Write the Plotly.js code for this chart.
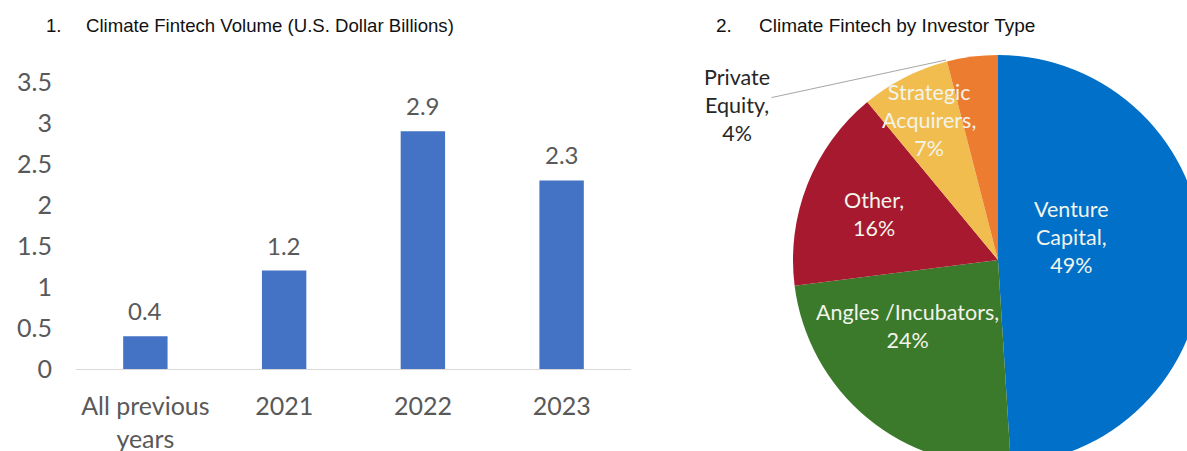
<!DOCTYPE html>
<html>
<head>
<meta charset="utf-8">
<script src="https://cdn.plot.ly/plotly-3.0.1.min.js"></script>
<style>
html,body{margin:0;padding:0;overflow:hidden;background:#fff;width:1187px;height:451px;}
#chart{position:absolute;left:0;top:0;width:1210px;height:470px;}
</style>
</head>
<body>
<div id="chart"></div>
<script>
// ---- Data ----
const barCategories = ['All previous<br>years', '2021', '2022', '2023'];
const barValues = [0.4, 1.2, 2.9, 2.3];
const yTickVals = [0, 0.5, 1, 1.5, 2, 2.5, 3, 3.5];
const yTickText = ['0', '0.5', '1', '1.5', '2', '2.5', '3', '3.5'];

const pieLabels = ['Venture Capital', 'Angles /Incubators', 'Other', 'Strategic Acquirers', 'Private Equity'];
const pieLabelText = ['Venture<br>Capital,', 'Angles /Incubators,', 'Other,', 'Strategic<br>Acquirers,', 'Private<br>Equity,'];
const pieShares = [49, 24, 16, 7, 4];
const pieColors = ['#0070C9', '#3B7A2A', '#A6192E', '#F2BD4F', '#EC7C30'];

const title1Num = '1.';
const title1 = 'Climate Fintech Volume (U.S. Dollar Billions)';
const title2Num = '2.';
const title2 = 'Climate Fintech by Investor Type';

// ---- Layout helpers ----
const W = 1210, H = 470;
const px = x => x / W;
const py = y => 1 - y / H;

const calibri = 'Lato, "Open Sans", sans-serif';
const arial = '"Liberation Sans", Arial, sans-serif';
const gray = '#595959';

const barX = barCategories.map((c, i) => i);

const barTrace = {
  type: 'bar',
  x: barX,
  y: barValues,
  marker: {color: '#4472C4'},
  xaxis: 'x', yaxis: 'y',
  hoverinfo: 'none'
};

const pieTrace = {
  type: 'pie',
  labels: pieLabels,
  values: pieShares,
  textinfo: 'none',
  marker: {colors: pieColors, line: {width: 0}},
  sort: false,
  direction: 'clockwise',
  rotation: 0,
  showlegend: false,
  hoverinfo: 'none',
  domain: {x: [px(793), px(1203)], y: [py(465), py(55)]}
};

const annotations = [];
// bar value labels
barX.forEach((x, i) => {
  annotations.push({
    x: x, y: barValues[i], xref: 'x', yref: 'y',
    text: String(barValues[i]), showarrow: false,
    yanchor: 'bottom', yshift: 9,
    font: {family: calibri, size: 24, color: gray}
  });
});
// titles
[[44, title1Num, 18.6], [84, title1, 18.6], [714, title2Num, 19], [757, title2, 19]].forEach(([x, t, s]) => {
  annotations.push({xref: 'paper', yref: 'paper', x: px(x), y: py(25), xanchor: 'left', yanchor: 'middle',
    text: t, showarrow: false, font: {family: arial, size: s, color: '#111'}});
});
// pie labels (inside)
const pieLabelPos = [[1071, 237], [907, 326], [874, 214], [929, 120]];
const lightText = '#F2F4EC';
pieLabelPos.forEach(([x, y], i) => {
  annotations.push({xref: 'paper', yref: 'paper', x: px(x), y: py(y), xanchor: 'center', yanchor: 'middle',
    text: pieLabelText[i] + '<br>' + pieShares[i] + '%', showarrow: false,
    font: {family: calibri, size: 21.5, color: lightText}});
});
// Private Equity outside label with leader line
const last = pieLabels.length - 1;
annotations.push({xref: 'paper', yref: 'paper', x: px(946), y: py(60),
  axref: 'pixel', ayref: 'pixel', ax: -209, ay: 45,
  text: pieLabelText[last] + '<br>' + pieShares[last] + '%',
  showarrow: true, arrowhead: 0, arrowwidth: 1, arrowcolor: '#A6A6A6',
  font: {family: calibri, size: 21.5, color: '#262626'}});

const layout = {
  width: W, height: H,
  margin: {l: 0, r: 0, t: 0, b: 0},
  paper_bgcolor: '#fff', plot_bgcolor: '#fff',
  showlegend: false,
  bargap: 0.68,
  xaxis: {
    domain: [px(76), px(631)],
    type: 'linear',
    range: [-0.5, 3.5],
    tickvals: barX, ticktext: barCategories,
    showgrid: false, zeroline: false,
    showline: true, linecolor: '#D9D9D9', linewidth: 1,
    ticks: '', ticklabelstandoff: 15,
    tickfont: {family: calibri, size: 25, color: gray},
    fixedrange: true
  },
  yaxis: {
    domain: [py(369), py(82)],
    range: [0, 3.5],
    tickvals: yTickVals, ticktext: yTickText,
    showgrid: false, zeroline: false, showline: false,
    ticks: '', ticklabelstandoff: 23,
    tickfont: {family: calibri, size: 25, color: gray},
    fixedrange: true
  },
  annotations: annotations
};

Plotly.newPlot('chart', [barTrace, pieTrace], layout, {displayModeBar: false, staticPlot: true});
</script>
</body>
</html>
